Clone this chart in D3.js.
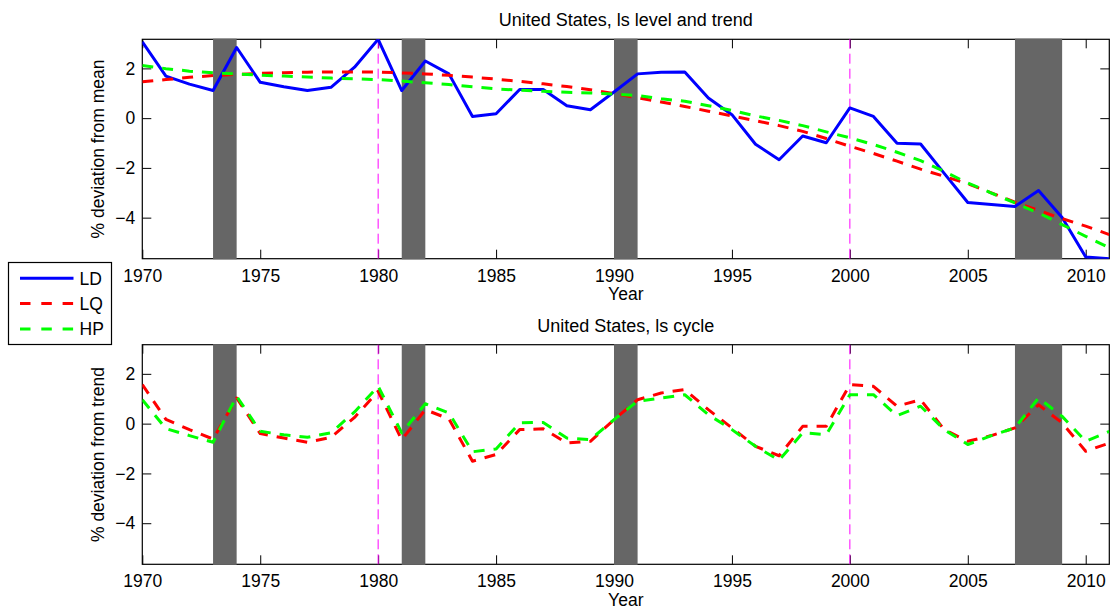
<!DOCTYPE html>
<html>
<head>
<meta charset="utf-8">
<script src="https://cdn.jsdelivr.net/npm/d3@7"></script>
<style>
  html, body { margin: 0; padding: 0; background: #fff; }
  svg { display: block; font-family: "Liberation Sans", Arial, Helvetica, sans-serif; }
  .tick text { font-size: 17.5px; fill: #000; }
</style>
</head>
<body>
<svg id="chart" width="1110" height="612"></svg>
<script>
// Labour share (ls), United States, 1970-2011
const years = d3.range(1970, 2012);

// log level, demeaned (%)
const ldLevel = [3.07, 1.69, 1.37, 1.11, 2.84, 1.44, 1.26, 1.11, 1.24, 2.05,
  3.17, 1.11, 2.30, 1.78, 0.07, 0.18, 1.15, 1.15, 0.50, 0.34,
  1.05, 1.78, 1.85, 1.86, 0.81, 0.14, -1.05, -1.67, -0.72, -0.99,
  0.41, 0.07, -1.01, -1.04, -2.22, -3.39, -3.47, -3.55, -2.91, -3.99,
  -5.58, -5.65];

// quadratic (LQ) trend
const lqTrend = [1.46, 1.55, 1.64, 1.71, 1.76, 1.80, 1.83, 1.85, 1.86, 1.86,
  1.85, 1.82, 1.78, 1.72, 1.65, 1.57, 1.48, 1.38, 1.27, 1.14,
  0.99, 0.82, 0.65, 0.47, 0.28, 0.09, -0.10, -0.30, -0.53, -0.82,
  -1.13, -1.42, -1.73, -2.05, -2.34, -2.64, -3.00, -3.38, -3.71, -4.04,
  -4.34, -4.68];

// Hodrick-Prescott (HP) trend
const hpTrend = [2.12, 1.99, 1.89, 1.82, 1.78, 1.73, 1.69, 1.65, 1.61, 1.58,
  1.55, 1.49, 1.42, 1.35, 1.26, 1.18, 1.12, 1.08, 1.04, 1.01,
  0.97, 0.91, 0.78, 0.68, 0.50, 0.31, 0.09, -0.09, -0.30, -0.55,
  -0.79, -1.06, -1.37, -1.71, -2.14, -2.61, -3.01, -3.41, -3.81, -4.28,
  -4.75, -5.21];

// cycles: deviation from each trend
const lqCycle = [1.57, 0.17, -0.24, -0.62, 1.03, -0.40, -0.58, -0.75, -0.55, 0.25,
  1.30, -0.65, 0.56, 0.19, -1.51, -1.24, -0.24, -0.21, -0.78, -0.71,
  0.16, 0.96, 1.23, 1.37, 0.56, -0.17, -0.91, -1.29, -0.11, -0.11,
  1.57, 1.50, 0.70, 0.96, -0.24, -0.71, -0.48, -0.17, 0.76, 0.03,
  -1.11, -0.78];

const hpCycle = [0.96, -0.20, -0.48, -0.75, 1.10, -0.31, -0.45, -0.55, -0.37, 0.47,
  1.50, -0.37, 0.80, 0.43, -1.13, -1.02, 0.03, 0.05, -0.58, -0.64,
  0.16, 0.90, 1.03, 1.16, 0.36, -0.24, -0.91, -1.47, -0.37, -0.44,
  1.16, 1.16, 0.32, 0.70, -0.24, -0.84, -0.48, -0.17, 1.03, 0.29,
  -0.71, -0.31];

// NBER recession spans (start, end)
const recessions = [[1973, 1974], [1981, 1982], [1990, 1991], [2007, 2009]];
// marked reference years
const markerYears = [1980, 2000];

const xTicks = [1970, 1975, 1980, 1985, 1990, 1995, 2000, 2005, 2010];
const yTicks = [-4, -2, 0, 2];
const xDomain = [1970, 2011];
const yDomain = [-5.65, 3.17];

const seriesStyle = {
  LD: { color: "#0000ff", dash: null },
  LQ: { color: "#ff0000", dash: "11,9" },
  HP: { color: "#00ff00", dash: "11,9" }
};

const svg = d3.select("#chart");
const plotLeft = 142.3, plotRight = 1109.3;
const x = d3.scaleLinear().domain(xDomain).range([plotLeft, plotRight]);

const panels = [
  { top: 39.3, bottom: 258.7, title: "United States, ls level and trend",
    ylabel: "% deviation from mean",
    series: [["LD", ldLevel], ["LQ", lqTrend], ["HP", hpTrend]] },
  { top: 344.7, bottom: 564.3, title: "United States, ls cycle",
    ylabel: "% deviation from trend",
    series: [["LQ", lqCycle], ["HP", hpCycle]] }
];

panels.forEach((p, i) => {
  const y = d3.scaleLinear().domain(yDomain).range([p.bottom, p.top]);
  const g = svg.append("g");
  const clipId = "clip" + i;

  svg.append("clipPath").attr("id", clipId)
    .append("rect")
    .attr("x", plotLeft).attr("y", p.top)
    .attr("width", plotRight - plotLeft).attr("height", p.bottom - p.top);

  // axes with inward ticks on all four sides
  const bottomAxis = d3.axisBottom(x).tickValues(xTicks).tickFormat(d3.format("d"))
    .tickSize(-9).tickPadding(10.6);
  const topAxis = d3.axisTop(x).tickValues(xTicks).tickFormat("").tickSize(-9);
  const leftAxis = d3.axisLeft(y).tickValues(yTicks)
    .tickFormat(d => d < 0 ? "\u2212" + Math.abs(d) : String(d))
    .tickSize(-9).tickPadding(7);
  const rightAxis = d3.axisRight(y).tickValues(yTicks).tickFormat("").tickSize(-9);

  const axes = [
    [bottomAxis, `translate(0,${p.bottom})`],
    [topAxis, `translate(0,${p.top})`],
    [leftAxis, `translate(${plotLeft},0)`],
    [rightAxis, `translate(${plotRight},0)`]
  ];
  axes.forEach(([ax, tr]) => {
    const a = g.append("g").attr("transform", tr).call(ax);
    a.select(".domain").remove();
    a.selectAll(".tick line").attr("stroke", "#000").attr("stroke-width", 1);
  });

  // axes frame
  g.append("rect")
    .attr("x", plotLeft).attr("y", p.top)
    .attr("width", plotRight - plotLeft).attr("height", p.bottom - p.top)
    .attr("fill", "none").attr("stroke", "#000").attr("stroke-width", 1.2);

  // recession shading
  g.append("g").selectAll("rect").data(recessions).join("rect")
    .attr("x", d => x(d[0])).attr("width", d => x(d[1]) - x(d[0]))
    .attr("y", p.top - 0.6).attr("height", p.bottom - p.top + 1.2)
    .attr("fill", "#666666");

  // reference year markers
  g.append("g").selectAll("line").data(markerYears).join("line")
    .attr("x1", d => x(d)).attr("x2", d => x(d))
    .attr("y1", p.bottom).attr("y2", p.top)
    .attr("stroke", "#ff00ff").attr("stroke-width", 1)
    .attr("stroke-dasharray", "10,5");

  // series lines
  const line = d3.line().x((d, k) => x(years[k])).y(d => y(d));
  const lines = g.append("g").attr("clip-path", `url(#${clipId})`);
  p.series.forEach(([name, vals]) => {
    const st = seriesStyle[name];
    lines.append("path")
      .datum(vals)
      .attr("d", line)
      .attr("fill", "none")
      .attr("stroke", st.color)
      .attr("stroke-width", 3)
      .attr("stroke-linejoin", "round")
      .attr("stroke-dasharray", st.dash);
  });

  // title and labels
  svg.append("text")
    .attr("x", (plotLeft + plotRight) / 2).attr("y", p.top - 13)
    .attr("text-anchor", "middle").attr("font-size", 18).text(p.title);

  svg.append("text")
    .attr("x", (plotLeft + plotRight) / 2).attr("y", p.bottom + 41.5)
    .attr("text-anchor", "middle").attr("font-size", 17.5).text("Year");

  svg.append("text")
    .attr("transform", `translate(103.5,${(p.top + p.bottom) / 2}) rotate(-90)`)
    .attr("text-anchor", "middle").attr("font-size", 17.5).text(p.ylabel);
});

// legend
const legendItems = ["LD", "LQ", "HP"];
const legend = svg.append("g");
legend.append("rect")
  .attr("x", 8.5).attr("y", 262.5).attr("width", 103).attr("height", 82)
  .attr("fill", "#fff").attr("stroke", "#000").attr("stroke-width", 1.2);
legendItems.forEach((name, k) => {
  const st = seriesStyle[name];
  const ly = 278.3 + k * 25.3;
  legend.append("line")
    .attr("x1", 20).attr("x2", 73.5).attr("y1", ly).attr("y2", ly)
    .attr("stroke", st.color).attr("stroke-width", 3)
    .attr("stroke-dasharray", st.dash ? "10.5,10.8" : null);
  legend.append("text")
    .attr("x", 79.5).attr("y", ly + 6.2)
    .attr("font-size", 17.5).text(name);
});
</script>
</body>
</html>
